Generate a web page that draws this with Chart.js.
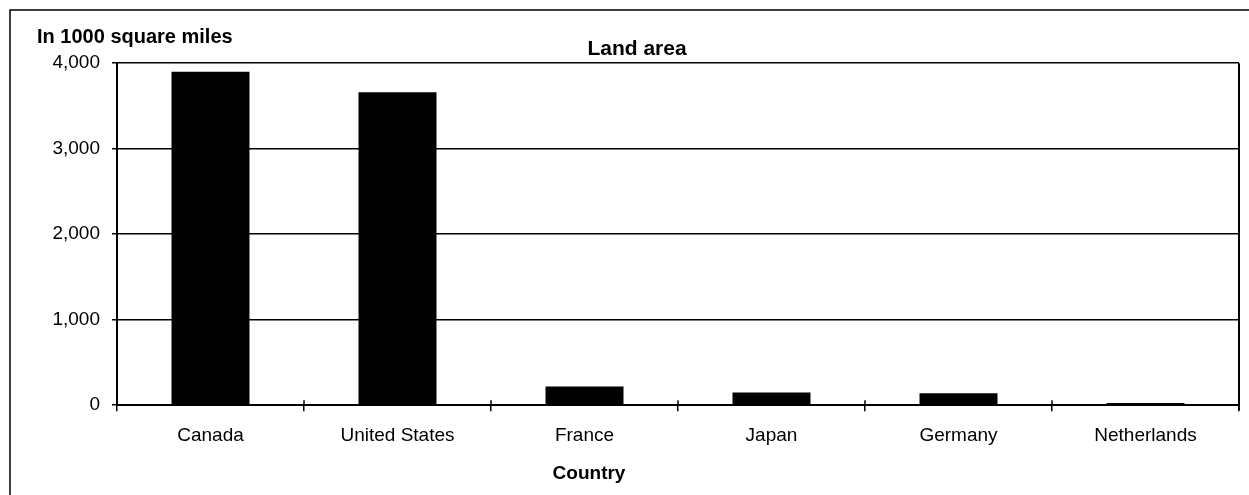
<!DOCTYPE html>
<html>
<head>
<meta charset="utf-8">
<script src="https://cdn.jsdelivr.net/npm/chart.js@4"></script>
<style>
  html, body { margin: 0; padding: 0; background: #fff; }
  #wrap { width: 1249px; height: 495px; position: relative; }
</style>
</head>
<body>
<div id="wrap"><canvas id="c"></canvas></div>
<script>
const categories = ["Canada", "United States", "France", "Japan", "Germany", "Netherlands"];
const landArea = [3900, 3660, 220, 150, 140, 25];
const yTickValues = [0, 1000, 2000, 3000, 4000];
const chartTitle = "Land area";
const yAxisTitle = "In 1000 square miles";
const xAxisTitle = "Country";

const FONT = "'Liberation Sans', Arial, Helvetica, sans-serif";

const framePlugin = {
  id: 'frame',
  afterDraw(chart) {
    const ctx = chart.ctx;
    const a = chart.chartArea;
    const xs = chart.scales.x;
    ctx.save();
    ctx.strokeStyle = '#000';
    // right border of plot area
    ctx.lineWidth = 2;
    ctx.beginPath();
    ctx.moveTo(a.right, a.top);
    ctx.lineTo(a.right, a.bottom + 5);
    ctx.stroke();
    // small tick marks crossing the category axis (above the axis part)
    ctx.lineWidth = 1.5;
    const n = categories.length;
    for (let i = 1; i < n; i++) {
      const x = (xs.getPixelForValue(i - 1) + xs.getPixelForValue(i)) / 2;
      ctx.beginPath();
      ctx.moveTo(x, a.bottom - 5);
      ctx.lineTo(x, a.bottom);
      ctx.stroke();
    }
    // outer frame (top & left)
    ctx.lineWidth = 1.5;
    ctx.beginPath();
    ctx.moveTo(10, chart.height);
    ctx.lineTo(10, 10);
    ctx.lineTo(chart.width, 10);
    ctx.stroke();
    // texts
    ctx.fillStyle = '#000';
    ctx.font = "bold 20px " + FONT;
    ctx.textBaseline = 'alphabetic';
    ctx.textAlign = 'left';
    ctx.fillText(yAxisTitle, a.left - 80, a.top - 20);
    ctx.font = "bold 19px " + FONT;
    ctx.textAlign = 'center';
    ctx.fillText(xAxisTitle, 589, a.bottom + 74);
    ctx.restore();
  }
};

new Chart(document.getElementById('c'), {
  type: 'bar',
  data: {
    labels: categories,
    datasets: [{
      data: landArea,
      backgroundColor: '#000',
      borderWidth: 0,
      categoryPercentage: 1,
      barPercentage: 0.417
    }]
  },
  options: {
    responsive: true,
    maintainAspectRatio: false,
    animation: false,
    events: [],
    layout: { padding: { left: 35, right: 10, top: 37, bottom: 35 } },
    plugins: {
      legend: { display: false },
      tooltip: { enabled: false },
      title: {
        display: true,
        text: chartTitle,
        color: '#000',
        font: { family: FONT, size: 21, weight: 'bold', lineHeight: 1.2 },
        padding: { top: 0, bottom: 1 }
      }
    },
    scales: {
      x: {
        offset: true,
        grid: {
          offset: true,
          drawOnChartArea: false,
          drawTicks: true,
          tickLength: 6,
          color: '#000',
          lineWidth: 1.5
        },
        border: { display: true, color: '#000', width: 2 },
        ticks: {
          color: '#000',
          padding: 13,
          maxRotation: 0,
          font: { family: FONT, size: 19 }
        }
      },
      y: {
        min: 0,
        max: 4000,
        afterBuildTicks(scale) {
          scale.ticks = yTickValues.map(v => ({ value: v }));
        },
        afterFit(scale) { scale.width = 82; },
        grid: {
          color: '#000',
          lineWidth: 1.5,
          drawTicks: true,
          tickLength: 5
        },
        border: { display: true, color: '#000', width: 2 },
        ticks: {
          color: '#000',
          padding: 12,
          font: { family: FONT, size: 19 },
          callback: v => v.toLocaleString('en-US')
        }
      }
    }
  },
  plugins: [framePlugin]
});
</script>
</body>
</html>
